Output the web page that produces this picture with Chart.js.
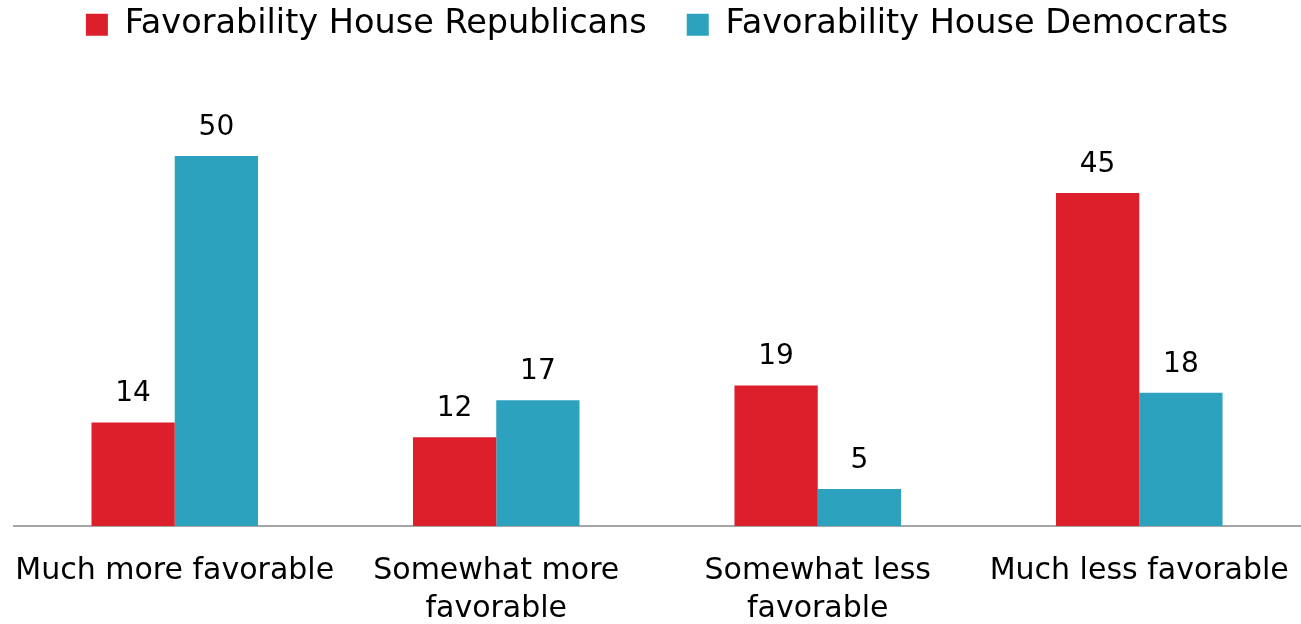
<!DOCTYPE html>
<html>
<head>
<meta charset="utf-8">
<script src="https://cdn.jsdelivr.net/npm/chart.js@4.4.0/dist/chart.umd.min.js"></script>
<style>
    html, body { margin: 0; padding: 0; background: #fff; }
    #wrap { width: 1301px; height: 624px; }
</style>
</head>
<body>
<div id="wrap"><canvas id="favChart"></canvas></div>
<script>
// Chart data
const categories = ['Much more favorable', ['Somewhat more', 'favorable'], ['Somewhat less', 'favorable'], 'Much less favorable'];
const republicans = [14, 12, 19, 45];
const democrats = [50, 17, 5, 18];
const seriesNames = ['Favorability House Republicans', 'Favorability House Democrats'];
const seriesColors = ['#dc1f2a', '#2ca2bf'];

const FONT = 'DejaVu Sans';

// Draw the value above each bar
const valueLabels = {
    id: 'valueLabels',
    afterDatasetsDraw(chart) {
        const ctx = chart.ctx;
        ctx.save();
        ctx.font = '28px "' + FONT + '"';
        ctx.fillStyle = '#000';
        ctx.textAlign = 'center';
        ctx.textBaseline = 'alphabetic';
        chart.data.datasets.forEach(function (ds, i) {
            const meta = chart.getDatasetMeta(i);
            meta.data.forEach(function (bar, j) {
                ctx.fillText(ds.data[j], bar.x, bar.y - 21);
            });
        });
        ctx.restore();
    }
};

// Fix legend height so the plot area lines up
const legendHeight = {
    id: 'legendHeight',
    beforeInit(chart) {
        const fit = chart.legend.fit;
        chart.legend.fit = function () {
            fit.bind(chart.legend)();
            this.height = 82;
        };
    }
};

new Chart(document.getElementById('favChart'), {
    type: 'bar',
    data: {
        labels: categories,
        datasets: [{
            label: seriesNames[0],
            data: republicans,
            backgroundColor: seriesColors[0]
        }, {
            label: seriesNames[1],
            data: democrats,
            backgroundColor: seriesColors[1]
        }]
    },
    options: {
        responsive: true,
        maintainAspectRatio: false,
        animation: false,
        layout: { padding: { left: 14, right: 1, top: 0, bottom: 0 } },
        categoryPercentage: 0.518,
        barPercentage: 1.0,
        plugins: {
            legend: {
                position: 'top',
                labels: {
                    boxWidth: 22,
                    boxHeight: 22,
                    padding: 8,
                    color: '#000',
                    font: { family: FONT, size: 33.5 },
                    generateLabels(chart) {
                        // extra space after the first entry, like the original
                        return chart.data.datasets.map(function (ds, i) {
                            return {
                                text: i === 0 ? ds.label + '   ' : ds.label,
                                fillStyle: ds.backgroundColor,
                                strokeStyle: ds.backgroundColor,
                                lineWidth: 0,
                                fontColor: '#000',
                                hidden: false,
                                datasetIndex: i
                            };
                        });
                    }
                }
            },
            tooltip: { enabled: false }
        },
        scales: {
            x: {
                grid: { display: false },
                border: { display: true, color: '#a6a6a6', width: 2 },
                ticks: {
                    color: '#000',
                    maxRotation: 0,
                    autoSkip: false,
                    padding: 18,
                    font: { family: FONT, size: 30, lineHeight: 1.27 }
                },
                afterFit(scale) {
                    scale.height = 98;
                    scale.paddingLeft = 0;
                    scale.paddingRight = 0;
                }
            },
            y: {
                display: false,
                min: 0,
                max: 60
            }
        }
    },
    plugins: [valueLabels, legendHeight]
});
</script>
</body>
</html>
